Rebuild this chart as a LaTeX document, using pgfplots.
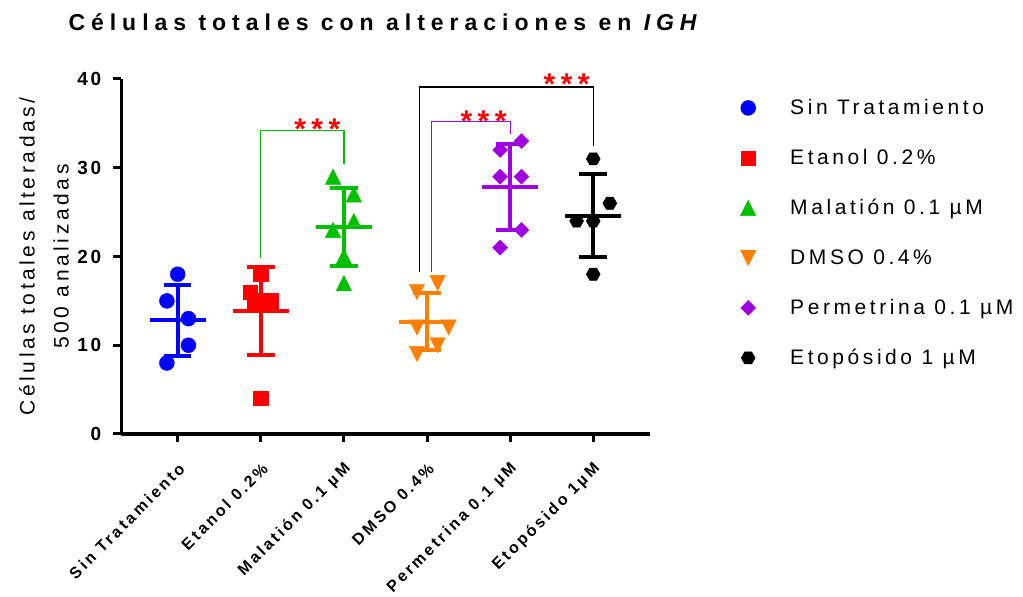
\documentclass[border=0pt]{standalone}
\usepackage{fontspec}
\setmainfont{Liberation Sans}
\newfontfamily\spR{Liberation Sans}[LetterSpace=17]
\newfontfamily\spB{Liberation Sans}[LetterSpace=20]
\usepackage{pgfplots}
\pgfplotsset{compat=1.18}
\usetikzlibrary{plotmarks}
\definecolor{cblue}{RGB}{0,0,255}
\definecolor{cred}{RGB}{255,0,0}
\definecolor{cgreen}{RGB}{0,192,0}
\definecolor{corange}{RGB}{255,128,0}
\definecolor{cpurple}{RGB}{160,0,224}
\pgfdeclareplotmark{hexa}{%
  \pgfpathmoveto{\pgfqpoint{\pgfplotmarksize}{0pt}}%
  \pgfpathlineto{\pgfqpoint{0.5\pgfplotmarksize}{0.866\pgfplotmarksize}}%
  \pgfpathlineto{\pgfqpoint{-0.5\pgfplotmarksize}{0.866\pgfplotmarksize}}%
  \pgfpathlineto{\pgfqpoint{-\pgfplotmarksize}{0pt}}%
  \pgfpathlineto{\pgfqpoint{-0.5\pgfplotmarksize}{-0.866\pgfplotmarksize}}%
  \pgfpathlineto{\pgfqpoint{0.5\pgfplotmarksize}{-0.866\pgfplotmarksize}}%
  \pgfpathclose\pgfusepathqfillstroke}
\pgfdeclareplotmark{triup}{%
  \pgfpathmoveto{\pgfqpoint{0pt}{\pgfplotmarksize}}%
  \pgfpathlineto{\pgfqpoint{-\pgfplotmarksize}{-\pgfplotmarksize}}%
  \pgfpathlineto{\pgfqpoint{\pgfplotmarksize}{-\pgfplotmarksize}}%
  \pgfpathclose\pgfusepathqfillstroke}
\pgfdeclareplotmark{tridown}{%
  \pgfpathmoveto{\pgfqpoint{0pt}{-\pgfplotmarksize}}%
  \pgfpathlineto{\pgfqpoint{-\pgfplotmarksize}{\pgfplotmarksize}}%
  \pgfpathlineto{\pgfqpoint{\pgfplotmarksize}{\pgfplotmarksize}}%
  \pgfpathclose\pgfusepathqfillstroke}
\pgfdeclareplotmark{diam}{%
  \pgfpathmoveto{\pgfqpoint{0pt}{\pgfplotmarksize}}%
  \pgfpathlineto{\pgfqpoint{-\pgfplotmarksize}{0pt}}%
  \pgfpathlineto{\pgfqpoint{0pt}{-\pgfplotmarksize}}%
  \pgfpathlineto{\pgfqpoint{\pgfplotmarksize}{0pt}}%
  \pgfpathclose\pgfusepathqfillstroke}
\newcommand{\lt}[1]{\raisebox{0pt}[15pt][0pt]{#1}}
\begin{document}
\begin{tikzpicture}
\path[use as bounding box] (0,0) rectangle (1023pt,597pt);
\begin{axis}[
  at={(121.5pt,163pt)}, anchor=south west,
  scale only axis, width=528.5pt, height=355pt,
  xmin=-0.676, xmax=5.683, ymin=0, ymax=40,
  axis x line*=bottom, axis y line*=left,
  axis line style={line width=3.3pt, -},
  clip=false,
  ytick={0,10,20,30,40},
  xtick={0,1,2,3,4,5},
  xticklabels={Sin Tratamiento, Etanol 0.2\%, Malatión 0.1 µM, DMSO 0.4\%, Permetrina 0.1 µM, Etopósido 1µM},
  tick style={line width=3pt, black},
  major tick length=8pt,
  tick align=outside,
  /pgf/number format/assume math mode=true,
  yticklabel style={font=\spB\bfseries\fontsize{19}{21}\selectfont\addfontfeatures{LetterSpace=15}, inner sep=0pt, xshift=-12pt},
  xticklabel style={font=\spB\bfseries\fontsize{16}{18}\selectfont\addfontfeatures{LetterSpace=17}, rotate=45, anchor=east, inner sep=0pt, xshift=-14pt, yshift=-20pt},
  ylabel={Células totales alteradas/\\500 analizadas},
  ylabel style={at={(axis description cs:-0.1467,0.5)}, anchor=center, align=center, font=\spR\fontsize{21}{34}\selectfont},
  title={Células totales con alteraciones en \textit{IGH}},
  title style={at={(axis description cs:0.5,1)}, anchor=base, yshift=42pt, font=\spB\bfseries\fontsize{23}{27}\selectfont\addfontfeatures{LetterSpace=26}},
  legend style={draw=none, fill=none, at={(axis description cs:1.1709,0.948)}, anchor=north west,
    font=\spR\fontsize{21}{25}\selectfont, row sep=29.5pt, inner sep=0pt,
    /tikz/every odd column/.append style={column sep=32.3pt}},
  legend cell align=left,
  legend image code/.code={\draw[#1] plot coordinates {(0pt,0pt)};},
]
% scatter points
\addplot[only marks, mark=*, mark size=7.5pt, color=cblue] coordinates {(0,18) (-0.13,15) (0.13,13) (0.13,10) (-0.13,8)};
\addlegendentry{\lt{Sin Tratamiento}}
\addplot[only marks, mark=square*, mark size=7.2pt, color=cred] coordinates {(1,18) (0.876,16) (0.927,15) (1.027,15) (1.127,15) (1,4)};
\addlegendentry{\lt{Etanol 0.2\%}}
\addplot[only marks, mark=triup, mark size=7.7pt, color=cgreen] coordinates {(1.87,29) (2.12,27) (2.12,24) (1.87,23) (2,20) (2,17)};
\addlegendentry{\lt{Malatión 0.1 µM}}
\addplot[only marks, mark=tridown, mark size=7.7pt, color=corange] coordinates {(2.88,16) (3.128,17) (2.88,12) (3.26,12) (3.128,10) (2.88,9)};
\addlegendentry{\lt{DMSO 0.4\%}}
\addplot[only marks, mark=diam, mark size=7.5pt, color=cpurple] coordinates {(4.137,33) (3.88,32) (3.88,29) (4.137,29) (4.137,23) (3.88,21)};
\addlegendentry{\lt{Permetrina 0.1 µM}}
\addplot[only marks, mark=hexa, mark size=7pt, color=black] coordinates {(5,31) (5.2,26) (4.8,24) (5,24) (5,18)};
\addlegendentry{\lt{Etopósido 1 µM}}
% mean +- SD
\pgfplotsset{msd/.style={forget plot, only marks, mark=-, mark size=28pt, mark options={line width=4pt},
  error bars/.cd, y dir=both, y explicit, error mark=-, error mark options={rotate=90, mark size=13.8pt, line width=4pt, #1}, error bar style={line width=4pt, #1}}}
\addplot[color=cblue, msd=cblue] coordinates {(0,12.8) +- (0,3.962)};
\addplot[color=cred, msd=cred] coordinates {(1,13.833) +- (0,4.957)};
\addplot[color=cgreen, msd=cgreen] coordinates {(2,23.333) +- (0,4.412)};
\addplot[color=corange, msd=corange] coordinates {(3,12.667) +- (0,3.204)};
\addplot[color=cpurple, msd=cpurple] coordinates {(4,27.833) +- (0,4.834)};
\addplot[color=black, msd=black] coordinates {(5,24.6) +- (0,4.669)};
% brackets
\addplot[forget plot, cgreen, line width=1.3pt] coordinates {(1,19.8) (1,34.17) (2,34.17) (2,30.4)};
\addplot[forget plot, cpurple, line width=1.3pt] coordinates {(3.057,18.2) (3.057,35.2) (4.007,35.2) (4.007,33.8)};
\addplot[forget plot, black, line width=1.3pt] coordinates {(2.907,18.2) (2.907,39.1) (5,39.1) (5,32.4)};
\node[cred, font=\spB\bfseries\fontsize{30}{32}\selectfont\addfontfeatures{LetterSpace=18}] at (axis cs:1.68,34.4) {***};
\node[cred, font=\spB\bfseries\fontsize{30}{32}\selectfont\addfontfeatures{LetterSpace=18}] at (axis cs:3.68,35.3) {***};
\node[cred, font=\spB\bfseries\fontsize{30}{32}\selectfont\addfontfeatures{LetterSpace=18}] at (axis cs:4.68,39.4) {***};
\end{axis}
\end{tikzpicture}
\end{document}
